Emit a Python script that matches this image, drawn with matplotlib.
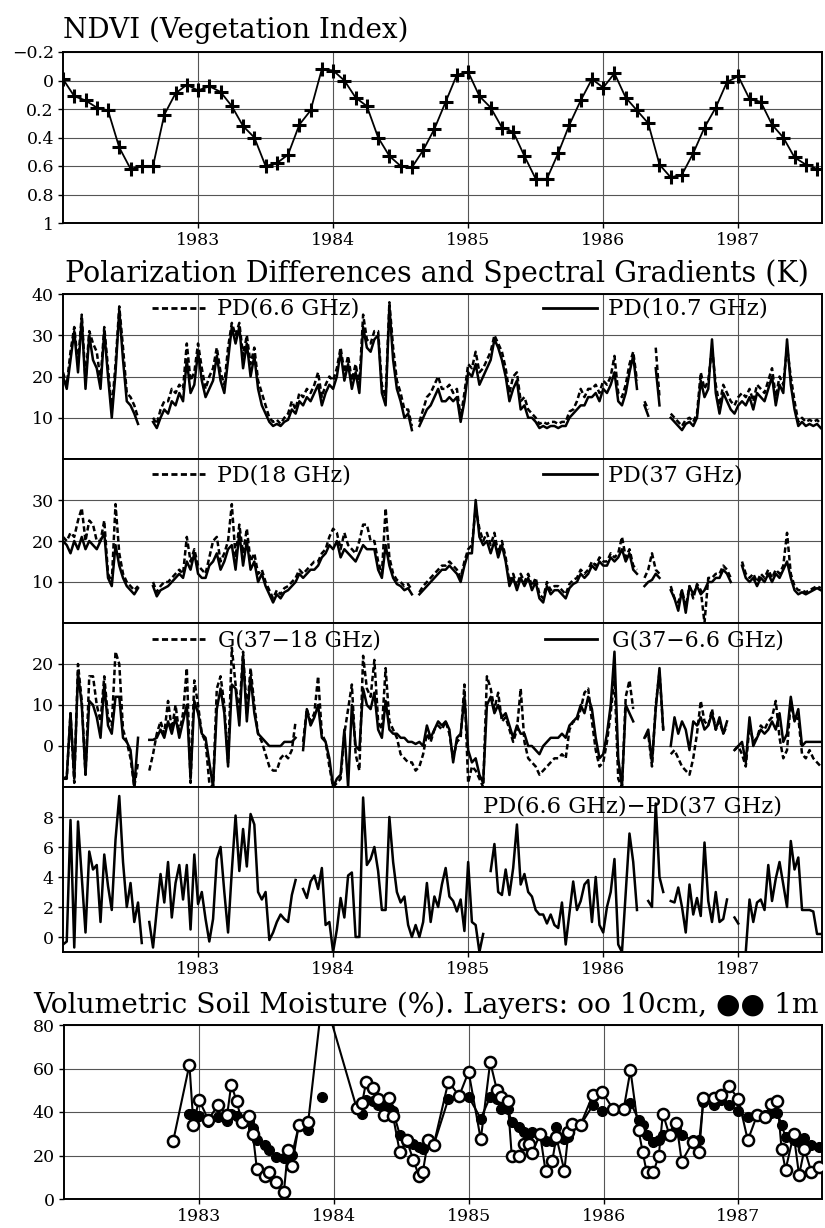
import numpy as np
import matplotlib
matplotlib.use("Agg")
import matplotlib.pyplot as plt
from matplotlib.lines import Line2D

nan = np.nan

# ---------------------------------------------------------------- data
years = [1983, 1984, 1985, 1986, 1987]
year_labels = ["1983", "1984", "1985", "1986", "1987"]

# monthly NDVI, Jan 1982 .. Aug 1987
ndvi = [
    -0.01, 0.11, 0.14, 0.19, 0.21, 0.47, 0.62, 0.60, 0.60, 0.24,
    0.09, 0.03, 0.07, 0.04, 0.08, 0.18, 0.32, 0.40, 0.60, 0.58,
    0.52, 0.31, 0.21, -0.08, -0.07, 0.00, 0.12, 0.18, 0.40, 0.53,
    0.60, 0.61, 0.49, 0.34, 0.15, -0.04, -0.06, 0.11, 0.19, 0.33,
    0.36, 0.53, 0.69, 0.69, 0.51, 0.31, 0.14, -0.01, 0.05, -0.05,
    0.12, 0.21, 0.30, 0.59, 0.68, 0.66, 0.51, 0.33, 0.19, 0.01,
    -0.03, 0.13, 0.15, 0.31, 0.40, 0.54, 0.59, 0.62,
]
ndvi_ticks = [-0.2, 0.0, 0.2, 0.4, 0.6, 0.8, 1.0]
ndvi_tick_labels = ["\u22120.2", "0", "0.2", "0.4", "0.6", "0.8", "1"]

# 10-day microwave series (K), Jan 1982 .. Aug 1987
pd_6_6 = [
    21, 18, 26, 32, 23, 35, 19, 31, 28, 26,
    19, 32, 22, 12, 23, 37, 27, 16, 15, 13,
    10, nan, nan, nan, 10, 8.5, 12, 14, 14, 17,
    16, 18, 17, 28, 19, 21, 28, 22, 17, 20,
    22, 27, 21, 18, 27, 33, 30, 33, 25, 30,
    23, 27, 19, 16, 13, 10, 9, 9.5, 8.5, 10,
    11, 14, 12, 16, 15, 17, 16, 18, 21, 15,
    18, 20, 19, 22, 27, 21, 25, 19, 23, 18,
    35, 29, 28, 31, 31, 18, 15, 38, 27, 19,
    16, 12, 12, 8, nan, 9, 12, 15, 16, 18,
    20, 17, 17, 18, 16, 17, 10, 16, 23, 22,
    26, 21, 22, 24, 26, 30, 28, 26, 22, 16,
    20, 21, 14, 15, 12, 11, 10, 8.5, 9, 8.5,
    9, 9, 8.5, 9, 9, 11.5, 12, 14, 17, 15,
    17, 17, 18, 16, 19, 18, 20, 25, 16, 15,
    18, 23, 26, 19, nan, 14, 12, nan, 27, 15,
    nan, nan, 11, 10, 9, 8, 9.5, 10, 9, 11,
    21, 17, 19, 27, 18, 13, 18, 16, 14, 13,
    15, 16, 15, 17, 14, 18, 17, 16, 19, 22,
    15, 20, 18, 27, 20, 14, 9, 10, 9, 9.5,
    9, 9.5, 8.5,
]
pd_10_7 = [
    20, 17, 24, 31, 21, 34, 17, 30, 24, 22,
    17, 31, 20, 10, 21, 36, 24, 14, 13, 11,
    8.5, nan, nan, nan, 9, 7.5, 10, 12, 11, 14,
    13, 16, 14, 24, 16, 18, 26, 19, 15, 17,
    19, 25, 19, 16, 24, 32, 28, 32, 22, 28,
    20, 25, 17, 13, 11, 9, 8, 8.5, 8, 9,
    9.5, 12, 11, 14, 13, 15, 14, 16, 18, 13,
    16, 18, 17, 20, 26, 19, 23, 17, 21, 16,
    32, 27, 26, 29, 30, 16, 13, 37, 24, 17,
    14, 10, 11, 7, nan, 8, 10, 12, 13, 15,
    17, 14, 14, 15, 14, 15, 9, 14, 21, 20,
    23, 18, 20, 22, 24, 29, 27, 24, 20, 14,
    17, 19, 12, 13, 10, 10, 9, 7.5, 8, 7.5,
    8, 8, 7.5, 8, 8, 10, 11, 12, 13, 13,
    15, 15, 16, 14, 17, 16, 18, 21, 14, 13,
    16, 21, 25, 17, nan, 13, 10.5, nan, 22, 13,
    nan, nan, 10, 9, 8, 7, 8.5, 9, 8, 10,
    19, 15, 17, 29, 16, 11, 16, 14, 12, 11,
    13, 14, 13, 15, 12, 16, 15, 14, 17, 20,
    13, 18, 16, 29, 18, 12, 8, 9, 8, 8.5,
    8, 8.5, 7.5,
]
pd_18 = [
    21, 20, 22, 21, 25, 28, 20, 25, 24, 20,
    20, 25, 12, 10, 29, 17, 12, 10, 9, 8,
    9, nan, nan, nan, 10, 7.5, 9, 10, 10, 11,
    12, 13, 12, 21, 15, 18, 14, 13, 12, 16,
    20, 21, 15, 17, 20, 29, 16, 24, 17, 23,
    15, 17, 12, 13, 10, 8, 6, 8, 7, 8.5,
    9, 10, 11, 13, 12, 13, 14, 15, 15, 17,
    18, 21, 23, 22, 18, 22, 19, 18, 17, 20,
    24, 24, 20, 20, 15, 12, 28, 16, 12, 10.5,
    10, 9, 9.5, 8, nan, 7.5, 9, 10, 11, 12,
    13, 14, 14, 15, 14, 13, 11, 15, 18, 19,
    28, 23, 20, 22, 19, 22, 17, 20, 16, 10,
    12, 9, 12, 10, 12, 9, 11, 7, 6, 10,
    8, 9, 9, 8, 7, 9.5, 10.5, 11, 13, 12,
    13, 15, 14, 16, 15, 15, 17, 16, 17, 21,
    16, 18, 14, 13, nan, 11, 13, 17, 13, 12,
    nan, nan, 9, 6, 5, 8, 4, 9, 6, 9.5,
    8, 0, 11, 11, 12, 12, 14, 13, 11, nan,
    nan, 15, 12, 11, 12, 10, 12, 11, 13, 11,
    13, 12, 14, 22, 12, 9, 8, 8, 7.5, 8,
    8.5, 9, 8.5,
]
pd_37 = [
    20, 19, 17, 20, 18, 21, 18, 20, 19, 18,
    20, 22, 11, 9, 19, 14, 11, 9, 8, 7,
    8.5, nan, nan, nan, 9, 6.5, 8, 8.5, 9, 10,
    11, 12, 11, 15, 13, 17, 12, 11, 11, 14,
    15, 17, 13, 15, 18, 19, 13, 22, 14, 20,
    13, 15, 10, 12, 9, 7, 5, 7, 6, 7.5,
    8, 9, 10, 12, 11, 12, 13, 13, 14, 16,
    17, 19, 18, 20, 16, 18, 17, 16, 15, 17,
    19, 18, 18, 18, 13, 11, 19, 14, 11, 9.5,
    9, 8, 8.5, 7, nan, 7, 8, 9, 10, 11,
    12, 13, 13, 14, 13, 12, 10, 14, 17, 17,
    30, 21, 19, 20, 17, 20, 16, 19, 15, 9,
    11, 8, 11, 9, 11, 8, 10, 6, 5, 9,
    7, 8, 8, 7, 6, 8.5, 9.5, 10, 12, 11,
    12, 14, 13, 15, 14, 14, 16, 15, 16, 18,
    15, 17, 13, 12, nan, 9, 10, 10.5, 12, 11,
    nan, nan, 8, 6, 3, 8, 2.5, 9, 7, 9,
    7, 8, 10, 10, 11, 11, 13, 12, 10, nan,
    nan, 14, 11, 10, 11, 9, 11, 10, 12, 10,
    12, 11, 13, 15, 11, 8, 7, 7.5, 7, 7.5,
    8, 8.5, 8,
]
g_37_18 = [
    -8, -8, 8, -9, 20, 11, -7, 17, 17, 10,
    6, 17, 7, 5, 23, 20, 4, 1, -3, -10,
    -4, nan, nan, -6, -2, 3, 6, 3, 11, 4,
    10, 3, 8, 19, -9, 16, 10, 3, 1, -9,
    -10, 14, 17, 10, -4, 24, 15, 8, 23, 8,
    19, 10, 3, 1, -2, -5, -6, -6, -3, -2,
    -3, -1, 6, nan, 1, 9, 6, 8, 17, 3,
    1, -5, -10, -9, -8, 3, 9, 15, -2, -6,
    22, 14, 12, 21, 6, 4, 19, 6, 4, 2,
    -2, -3, -4, -4, -6, -5, -2, 3, 1, 4,
    5, 4, 6, 3, -3, 1, 2, 15, -9, -5,
    -6, -8, -10, 17, 14, 9, 13, 6, 7, 4,
    1, 4, 14, 1, -3, -4, -5, -7, -6, -5,
    -4, -3, -3, -2, -3, 4, 6, 6, 9, 13,
    14, 6, -1, -5, -4, 1, 8, 17, -8, -10,
    12, 16, 9, nan, nan, 2, 3, -5, 10, 18,
    4, nan, -2, -1, -3, -5, -6, -7, -3, 3,
    11, 6, 5, 9, 4, 6, 3, 5, nan, -1,
    0, -2, -5, 5, 1, 2, 5, 4, 6, 7,
    11, 2, -3, -1, 11, 6, 7, -2, -3, -1,
    -3, -4, -5,
]
g_37_6_6 = [
    -8, -7.5, 8, -8, 18, 10, -7, 11, 10, 7,
    2, 15, 5, 3, 12, 12, 2, 1, -1, -10,
    2, nan, nan, 1.5, 1.5, 2, 4, 2, 6, 3,
    7, 2, 6, 10, -8, 11, 8, 3, 2, -4,
    -10, 9, 14, 8, -5, 15, 14, 5, 22, 6,
    17, 8, 3, 2, 1, 0, 0, 0, 0, 1,
    1, 1, 2, nan, -1, 9, 5, 7, 10, 2,
    1, -3, -10, -8, -7, 4, -10, 10, 0, -1,
    14, 10, 9, 13, 4, 2, 11, 4, 3, 3,
    2, 2, 1, 1, 0.5, 1, 0, 5, 2, 4,
    6, 5, 6, 4, -4, 2, 3, 12, -1, -4,
    -3, -7, -9, 10, 12, 8, 10, 7, 8, 5,
    2, 5, 3, 3, 0, 0, -1, -2, 0, 1,
    2, 2, 2, 3, 2, 5, 6, 7, 10, 8,
    12, 9, 2, -3, -2, 3, 10, 23, -3, -10,
    10, 8, 6, nan, nan, 2, 4, -4, 9, 19,
    4, nan, 0, 7, 3, 6, 4, -1, 6, 5,
    7, 4, 5, 8, 4, 7, 3, 6, nan, -1,
    0, 1, -4, 7, 0, 2, 4, 3, 4, 6,
    4, 8, 1, 3, 12, 6, 9, 0, 1, 1,
    1, 1, 1,
]
pd_diff = [
    -0.5, -0.3, 7.8, -0.7, 7.7, 4, 0.3, 5.7, 4.5, 4.8,
    1, 5.5, 3.4, 1.8, 6.5, 9.4, 5, 2, 3.6, 1,
    2.3, -0.4, nan, 1, -0.7, 1.8, 4.2, 2.3, 5, 1.3,
    3.6, 4.8, 2.5, 4.8, 0.5, 5.5, 2.2, 3, 1.2, -0.3,
    1.2, 5.2, 6, 3, 0.3, 4.4, 8.1, 4.4, 7.2, 4.7,
    8.2, 7.5, 3, 2.5, 3, -0.2, 0.3, 1, 1.5, 1.2,
    1, 2.8, 3.8, nan, 3.2, 2.6, 3.7, 4.1, 3.2, 4.6,
    0.8, 1, -1, 0.5, 2.6, 1.3, 4.1, 4.3, 0, 0,
    9.3, 4.8, 5.2, 6, 4.4, 1.8, 1.8, 8, 5, 3,
    2.3, 2.7, 0.8, 0, 0.8, 0, 1, 3.6, 1, 2.7,
    2, 3.5, 4.6, 2.7, 2.4, 1.7, 2.5, 0.4, 5, 1,
    0.8, -1, 0.2, nan, 4.4, 6.2, 3, 2.8, 4.5, 2.8,
    4.6, 7.5, 3.5, 4.2, 3, 2.7, 1.8, 1.5, 1.5, 0.9,
    1.5, 0.8, 0.6, 2.3, -0.5, 1.6, 3.7, 1.8, 2.4, 3.5,
    3.8, 1, 4, 0.8, 0.3, 2, 3, 5.2, -0.5, -1,
    3, 6.9, 5, 1.8, nan, nan, 2.4, 2.0, 8.9, 4,
    3, nan, 2.4, 2.3, 3.3, 2, 0.3, 3.5, 1.5, 2.6,
    1.4, 6.3, 2.4, 1, 3, 1, 1.2, 2.5, nan, 1.3,
    0.9, nan, -1, 2.5, 1, 2.3, 2.5, 1.8, 4.8, 2.4,
    3.9, 5, 3.5, 2, 6.4, 4.5, 5.3, 1.8, 1.8, 1.8,
    1.7, 0.2, 0.2,
]

# volumetric soil moisture (%)
soil_10cm_dates = [
    1982.81, 1982.93, 1982.96, 1983.00, 1983.07, 1983.14, 1983.21, 1983.24, 1983.28, 1983.32,
    1983.37, 1983.40, 1983.43, 1983.49, 1983.52, 1983.57, 1983.63, 1983.66, 1983.69, 1983.74,
    1983.81, 1983.92, 1984.17, 1984.21, 1984.24, 1984.29, 1984.33, 1984.37, 1984.41, 1984.44,
    1984.49, 1984.54, 1984.59, 1984.63, 1984.66, 1984.70, 1984.74, 1984.85, 1984.93, 1985.00,
    1985.09, 1985.16, 1985.21, 1985.24, 1985.29, 1985.32, 1985.37, 1985.41, 1985.45, 1985.47,
    1985.53, 1985.57, 1985.62, 1985.65, 1985.71, 1985.74, 1985.77, 1985.83, 1985.92, 1985.99,
    1986.07, 1986.15, 1986.20, 1986.26, 1986.29, 1986.32, 1986.37, 1986.41, 1986.44, 1986.49,
    1986.54, 1986.58, 1986.66, 1986.71, 1986.74, 1986.82, 1986.87, 1986.93, 1987.00, 1987.07,
    1987.14, 1987.20, 1987.24, 1987.29, 1987.32, 1987.35, 1987.41, 1987.45, 1987.49, 1987.54,
    1987.60,
]
soil_10cm = [
    26.8, 61.8, 33.8, 45.7, 36.5, 43.0, 38.8, 52.6, 45.0, 35.2,
    38.3, 30.0, 13.8, 10.6, 12.6, 8.0, 3.0, 22.3, 15.0, 33.8,
    35.2, 95.0, 41.8, 44.0, 53.8, 51.0, 46.0, 38.8, 46.5, 38.0,
    21.4, 27.0, 18.0, 10.8, 12.3, 27.2, 24.6, 54.0, 47.4, 58.5,
    27.4, 63.0, 50.0, 47.0, 45.0, 19.7, 19.7, 25.4, 25.4, 21.2,
    29.7, 13.0, 17.4, 28.5, 13.0, 30.8, 34.6, 34.2, 47.7, 49.2,
    41.5, 41.5, 59.2, 31.5, 21.8, 12.3, 12.3, 20.0, 39.2, 29.2,
    35.0, 17.2, 26.0, 21.5, 46.5, 46.5, 47.7, 51.8, 46.0, 27.0,
    38.8, 37.7, 43.5, 45.0, 23.0, 13.5, 29.7, 11.0, 23.0, 12.6,
    14.6,
]
soil_1m_dates = [
    1982.93, 1982.96, 1983.00, 1983.07, 1983.14, 1983.21, 1983.24, 1983.28, 1983.32, 1983.37,
    1983.40, 1983.43, 1983.49, 1983.52, 1983.57, 1983.63, 1983.66, 1983.69, 1983.74, 1983.81,
    1983.86, 1983.91, 1984.00, 1984.21, 1984.24, 1984.29, 1984.33, 1984.37, 1984.41, 1984.44,
    1984.49, 1984.54, 1984.59, 1984.63, 1984.66, 1984.70, 1984.74, 1984.85, 1984.93, 1985.00,
    1985.09, 1985.16, 1985.21, 1985.24, 1985.29, 1985.32, 1985.37, 1985.41, 1985.45, 1985.47,
    1985.53, 1985.57, 1985.62, 1985.65, 1985.71, 1985.74, 1985.77, 1985.83, 1985.92, 1985.99,
    1986.07, 1986.15, 1986.20, 1986.26, 1986.29, 1986.32, 1986.37, 1986.41, 1986.44, 1986.49,
    1986.54, 1986.58, 1986.66, 1986.71, 1986.74, 1986.82, 1986.87, 1986.93, 1987.00, 1987.07,
    1987.14, 1987.20, 1987.24, 1987.29, 1987.32, 1987.35, 1987.41, 1987.45, 1987.49, 1987.54,
    1987.60,
]
soil_1m = [
    39.2, 39.0, 38.0, 35.4, 37.5, 36.0, 39.0, 38.3, 35.7, 36.0,
    32.6, 27.2, 25.0, 22.6, 19.5, 18.8, 19.5, 20.3, 33.4, 31.8,
    nan, 46.8, nan, 39.0, 45.7, 45.0, 43.4, 42.6, 41.8, 40.3,
    29.5, 26.0, 25.4, 23.8, 23.0, 27.7, 24.6, 46.0, 47.4, 47.0,
    37.0, 47.0, 46.0, 41.5, 41.5, 35.4, 33.0, 30.8, 30.0, 31.0,
    29.5, 26.5, 26.5, 33.0, 27.7, 28.5, 34.0, 34.0, 43.0, 40.3,
    41.2, 41.2, 44.3, 36.5, 33.8, 29.2, 26.2, 27.0, 29.2, 29.2,
    32.3, 29.5, 27.0, 27.0, 44.6, 43.0, 45.4, 43.4, 40.3, 37.7,
    38.5, 38.5, 39.7, 39.7, 34.0, 28.5, 27.0, 26.2, 28.0, 24.6,
    23.8,
]

for s in (pd_6_6, pd_10_7, pd_18, pd_37, g_37_18, g_37_6_6, pd_diff):
    assert len(s) == 203, len(s)
assert len(soil_10cm) == len(soil_10cm_dates)
assert len(soil_1m) == len(soil_1m_dates)

ndvi_dates = 1982.0 + np.arange(len(ndvi)) / 12.0
sat_dates = 1982.0 + np.arange(len(pd_10_7)) / 36.0

# ---------------------------------------------------------------- figure
W, H = 825, 1228
plt.rcParams["font.family"] = ["DejaVu Serif", "DejaVu Sans"]
plt.rcParams["mathtext.fontset"] = "dejavuserif"

fig = plt.figure(figsize=(W / 100, H / 100), dpi=100)
fig.patch.set_facecolor("white")
XLIM = (1982.0, 1987.62)
TICK_FS = 12.5
GRID_C = "#555555"


def axes_px(left, top, right, bottom):
    return fig.add_axes([left / W, 1 - bottom / H, (right - left) / W, (bottom - top) / H])


def style(ax, yticks, ylim, ylabels=None, show_years=False):
    ax.set_xlim(*XLIM)
    ax.set_ylim(*ylim)
    ax.set_xticks(years)
    ax.set_xticklabels(year_labels if show_years else [])
    ax.set_yticks(yticks)
    if ylabels is not None:
        ax.set_yticklabels(ylabels)
    ax.tick_params(axis="both", direction="out", length=3.5, width=1.0,
                   labelsize=TICK_FS, pad=3, colors="black")
    if not show_years:
        ax.tick_params(axis="x", length=0)
    ax.grid(True, color=GRID_C, lw=0.8)
    ax.set_axisbelow(True)
    for sp in ax.spines.values():
        sp.set_linewidth(1.4)
        sp.set_color("black")


renderer = fig.canvas.get_renderer()


def fit_text(s, x0, x1, y, va="baseline", **kw):
    t = fig.text(x0 / W, 1 - y / H, s, fontsize=10, ha="left", va=va, **kw)
    w = t.get_window_extent(renderer).width
    t.set_fontsize(10 * (x1 - x0) / w)
    return t


def legend_item(xl0, xl1, y, dashed, label, xt0, xt1):
    ls = (0, (2.2, 1.2)) if dashed else "-"
    fig.add_artist(Line2D([xl0 / W, xl1 / W], [1 - y / H, 1 - y / H],
                          transform=fig.transFigure, color="black",
                          lw=2.0, linestyle=ls))
    fit_text(label, xt0, xt1, y + 1, va="center")


DASH = (0, (2.2, 1.2))

# ---- NDVI
ax0 = axes_px(63, 52, 822, 223)
style(ax0, ndvi_ticks, (1.0, -0.2), ndvi_tick_labels, show_years=True)
ax0.plot(ndvi_dates, ndvi, color="black", lw=1.3, marker="+",
         ms=10, mew=2.2, zorder=3)
fit_text("NDVI (Vegetation Index)", 63, 409, 38)

# ---- polarization differences / spectral gradients
fit_text("Polarization Differences and Spectral Gradients (K)", 65, 813, 282)

ax1 = axes_px(63, 294, 822, 459)
style(ax1, [10, 20, 30, 40], (0, 40))
ax1.plot(sat_dates, pd_10_7, color="black", lw=1.8, zorder=3)
ax1.plot(sat_dates, pd_6_6, color="black", lw=1.8, ls=DASH, zorder=4)
legend_item(152, 205, 308, True, "PD(6.6 GHz)", 217, 358)
legend_item(543, 597, 308, False, "PD(10.7 GHz)", 608, 767)

ax2 = axes_px(63, 459, 822, 623)
style(ax2, [10, 20, 30], (0, 40))
ax2.plot(sat_dates, pd_37, color="black", lw=1.8, zorder=3)
ax2.plot(sat_dates, pd_18, color="black", lw=1.8, ls=DASH, zorder=4)
legend_item(152, 205, 474, True, "PD(18 GHz)", 217, 350)
legend_item(543, 597, 474, False, "PD(37 GHz)", 608, 742)

ax3 = axes_px(63, 623, 822, 787)
style(ax3, [0, 10, 20], (-10, 30))
ax3.plot(sat_dates, g_37_6_6, color="black", lw=1.8, zorder=3)
ax3.plot(sat_dates, g_37_18, color="black", lw=1.8, ls=DASH, zorder=4)
legend_item(152, 205, 639, True, "G(37\u221218 GHz)", 218, 380)
legend_item(545, 597, 639, False, "G(37\u22126.6 GHz)", 612, 783)

ax4 = axes_px(63, 787, 822, 952)
style(ax4, [0, 2, 4, 6, 8], (-1, 10), show_years=True)
ax4.plot(sat_dates, pd_diff, color="black", lw=1.8, zorder=3)
fit_text("PD(6.6 GHz)\u2212PD(37 GHz)", 483, 780, 806, va="center")

# ---- soil moisture
fit_text("Volumetric Soil Moisture (%). Layers: oo 10cm, \u25cf\u25cf 1m",
         33, 822, 1013)
ax5 = axes_px(64, 1025, 822, 1199)
style(ax5, [0, 20, 40, 60, 80], (0, 80), show_years=True)
ax5.plot(soil_1m_dates, soil_1m, color="black", lw=1.5, marker="o",
         ms=7, mfc="black", mec="black", zorder=3)
ax5.plot(soil_10cm_dates, soil_10cm, color="black", lw=1.5, marker="o",
         ms=8, mfc="white", mec="black", mew=1.8, zorder=4)

fig.savefig("out.png", dpi=100, facecolor="white")
